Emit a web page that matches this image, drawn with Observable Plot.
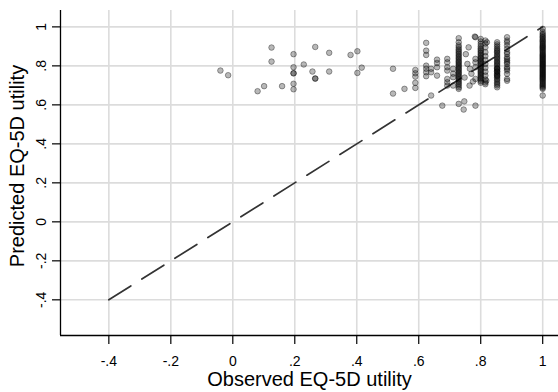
<!DOCTYPE html>
<html>
<head>
<meta charset="utf-8">
<script src="https://cdn.jsdelivr.net/npm/d3@7"></script>
<script src="https://cdn.jsdelivr.net/npm/@observablehq/plot@0.6"></script>
<style>
  html, body { margin: 0; padding: 0; background: #fff; overflow: hidden; }
  #chart { width: 558px; height: 392px; }
  #chart svg { display: block; }
</style>
</head>
<body>
<div id="chart"></div>
<script>
// ---- Data ----
const xTicks = [-0.4, -0.2, 0, 0.2, 0.4, 0.6, 0.8, 1];
const xTickLabels = ["-.4", "-.2", "0", ".2", ".4", ".6", ".8", "1"];
const yTicks = [-0.4, -0.2, 0, 0.2, 0.4, 0.6, 0.8, 1];
const yTickLabels = ["-.4", "-.2", "0", ".2", ".4", ".6", ".8", "1"];
const xDomain = [-0.556, 1.051];
const yDomain = [-0.583, 1.084];

const xTitle = "Observed EQ-5D utility";
const yTitle = "Predicted EQ-5D utility";

// 45-degree reference line (dashed)
const refLineX = [-0.4, 1];
const refLineY = [-0.4, 1];

// scattered individual observations (observed, predicted)
const scatterObs = [-0.040, -0.015, 0.080, 0.101, 0.125, 0.125, 0.159, 0.196, 0.196, 0.196, 0.196, 0.196, 0.196,
  0.229, 0.257, 0.266, 0.266, 0.266, 0.311, 0.311, 0.380, 0.402, 0.402, 0.416, 0.517, 0.517, 0.554,
  0.640, 0.676, 0.729, 0.747, 0.745, 0.783, 0.761, 0.781, 0.820, 0.818, 0.752, 0.757, 0.765, 0.770,
  0.748, 0.775, 0.764, 0.711, 0.711, 0.711, 0.711, 0.640, 0.640];
const scatterPred = [0.776, 0.752, 0.670, 0.696, 0.894, 0.822, 0.696, 0.860, 0.793, 0.762, 0.762, 0.708, 0.680,
  0.807, 0.771, 0.897, 0.735, 0.735, 0.867, 0.771, 0.856, 0.875, 0.764, 0.791, 0.785, 0.658, 0.682,
  0.648, 0.596, 0.605, 0.618, 0.576, 0.596, 0.895, 0.950, 0.921, 0.724, 0.860, 0.810, 0.785, 0.760,
  0.740, 0.720, 0.699, 0.785, 0.760, 0.742, 0.699, 0.785, 0.767];

// columns of observations sharing the same observed utility
const columnObs = [0.589, 0.624, 0.659, 0.692, 0.729, 0.783, 0.800, 0.815, 0.853, 0.885, 1.000];
const columnPred = [
  [0.779, 0.762, 0.745, 0.713, 0.687],
  [0.918, 0.878, 0.856, 0.801, 0.785, 0.767, 0.747],
  [0.832, 0.815, 0.793, 0.750],
  [0.836, 0.818, 0.793, 0.776, 0.733, 0.716, 0.699],
  [0.942, 0.921, 0.905, 0.895, 0.885, 0.877, 0.869, 0.861, 0.853, 0.845, 0.838, 0.830, 0.823, 0.816, 0.809, 0.802,
   0.795, 0.788, 0.781, 0.774, 0.767, 0.760, 0.753, 0.746, 0.739, 0.732, 0.724, 0.716, 0.708, 0.700, 0.690, 0.682],
  [0.947, 0.836, 0.818, 0.793, 0.733],
  [0.938, 0.925, 0.912, 0.900, 0.890, 0.882, 0.874, 0.866, 0.858, 0.850, 0.843, 0.836, 0.829, 0.822, 0.815, 0.808,
   0.800, 0.793, 0.786, 0.779, 0.772, 0.765, 0.758, 0.751, 0.744, 0.737, 0.730, 0.722, 0.714],
  [0.930, 0.915, 0.895, 0.870, 0.850, 0.830, 0.810, 0.790, 0.770, 0.750, 0.730, 0.715, 0.706],
  [0.921, 0.910, 0.900, 0.890, 0.882, 0.875, 0.868, 0.860, 0.852, 0.845, 0.838, 0.830, 0.822, 0.815, 0.808, 0.800,
   0.792, 0.785, 0.778, 0.770, 0.762, 0.755, 0.748, 0.740, 0.733, 0.725, 0.716, 0.708, 0.700, 0.690, 0.785, 0.770, 0.750],
  [0.947, 0.930, 0.920, 0.904, 0.887, 0.870, 0.861, 0.844, 0.836, 0.827, 0.818, 0.810, 0.793, 0.785, 0.776, 0.759, 0.733, 0.724],
  [0.990, 0.975, 0.965, 0.958, 0.950, 0.944, 0.937, 0.930, 0.925, 0.918, 0.912, 0.906, 0.900, 0.895, 0.890, 0.884,
   0.878, 0.872, 0.866, 0.860, 0.855, 0.850, 0.845, 0.840, 0.835, 0.830, 0.825, 0.820, 0.815, 0.810, 0.805, 0.800,
   0.795, 0.790, 0.785, 0.780, 0.775, 0.770, 0.765, 0.760, 0.755, 0.750, 0.745, 0.740, 0.735, 0.730, 0.724, 0.718,
   0.712, 0.706, 0.700, 0.694, 0.688, 0.682, 0.648]
];

// ---- Build tables ----
const points = [];
scatterObs.forEach((x, i) => points.push({obs: x, pred: scatterPred[i]}));
columnObs.forEach((x, j) => columnPred[j].forEach(y => points.push({obs: x, pred: y})));
const refLine = refLineX.map((x, i) => ({x, y: refLineY[i]}));
const fmtX = d => xTickLabels[xTicks.indexOf(d)];
const fmtY = d => yTickLabels[yTicks.indexOf(d)];

const font = "'Liberation Sans', Arial, Helvetica, sans-serif";

const chart = Plot.plot({
  width: 558,
  height: 392,
  marginLeft: 60,
  marginRight: 0,
  marginTop: 10,
  marginBottom: 57,
  style: {fontFamily: font, background: "#ffffff", color: "#000", overflow: "hidden"},
  x: {domain: xDomain},
  y: {domain: yDomain},
  marks: [
    Plot.gridX(xTicks, {stroke: "#dcdcdc", strokeOpacity: 1, strokeWidth: 1.6}),
    Plot.gridY(yTicks, {stroke: "#dcdcdc", strokeOpacity: 1, strokeWidth: 1.6}),
    Plot.ruleX([xDomain[0]], {stroke: "#000", strokeWidth: 1.3}),
    Plot.ruleY([yDomain[0]], {stroke: "#000", strokeWidth: 1.3}),
    Plot.axisX(xTicks, {tickFormat: fmtX, tickSize: 9, tickPadding: 12, fontSize: 14, label: null,
      stroke: "#000", strokeWidth: 1.2}),
    Plot.axisY(yTicks, {tickFormat: fmtY, tickSize: 8, tickPadding: 7, tickRotate: -90, fontSize: 14, label: null,
      stroke: "#000", strokeWidth: 1.2}),
    Plot.line(refLine, {x: "x", y: "y", stroke: "#333", strokeWidth: 1.7, strokeDasharray: "26,13"}),
    Plot.dot(points, {x: "obs", y: "pred", r: 2.8, fill: "#000", fillOpacity: 0.28,
      stroke: "#000", strokeOpacity: 0.36, strokeWidth: 1}),
    Plot.text([xTitle], {frameAnchor: "bottom", dy: 44, textAnchor: "middle", lineAnchor: "middle", fontSize: 20, fill: "#000", text: d => d}),
    Plot.text([yTitle], {frameAnchor: "left", dx: -43, dy: -7, rotate: -90, textAnchor: "middle", lineAnchor: "middle", fontSize: 20, fill: "#000", text: d => d})
  ]
});
document.getElementById("chart").appendChild(chart);
</script>
</body>
</html>
